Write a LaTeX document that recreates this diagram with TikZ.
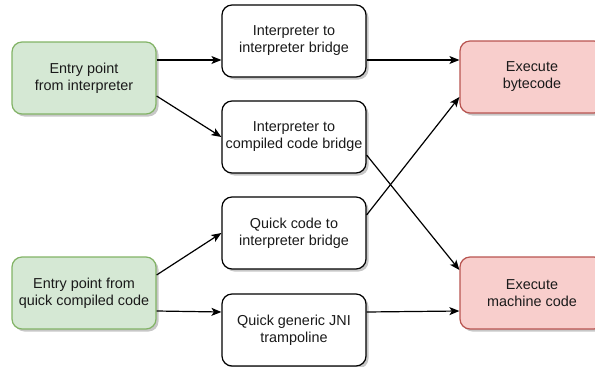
\documentclass[tikz,border=0pt]{standalone}
\usepackage{fontspec}
\setmainfont{Liberation Sans}
\usetikzlibrary{arrows.meta,shadows}
\definecolor{entryfill}{HTML}{D5E8D4}
\definecolor{entrydraw}{HTML}{82B366}
\definecolor{execfill}{HTML}{F8CECC}
\definecolor{execdraw}{HTML}{B85450}
\definecolor{txt}{HTML}{1A1A1A}
\tikzset{
  box/.style={draw=black, fill=white, rounded corners=10pt, line width=1.2pt,
    minimum width=144pt, minimum height=72pt, inner sep=0pt, align=center,
    text=txt, font=\fontsize{14.4}{17}\selectfont,
    drop shadow={shadow xshift=2.5pt, shadow yshift=-2.5pt, fill=black, opacity=0.22}},
  entry/.style={box, draw=entrydraw, fill=entryfill},
  exec/.style={box, draw=execdraw, fill=execfill},
  link/.style={line width=1.2pt, -{Stealth[length=10pt,width=8pt,inset=2.5pt]}},
}
\begin{document}
\begin{tikzpicture}[x=1pt,y=-1pt]
\useasboundingbox (0,0) rectangle (595,367);
% entry points
\node[entry] (g1) at (84,78) {Entry point\\from interpreter};
\node[entry] (g2) at (84,293) {Entry point from\\quick compiled code};
% bridges
\node[box] (m1) at (294,41) {Interpreter to\\interpreter bridge};
\node[box] (m2) at (294,137) {Interpreter to\\compiled code bridge};
\node[box] (m3) at (294,233) {Quick code to\\interpreter bridge};
\node[box] (m4) at (294,330) {Quick generic JNI\\trampoline};
% execution targets
\node[exec] (r1) at (532,77) {Execute\\bytecode};
\node[exec] (r2) at (532,293) {Execute\\machine code};
% connectors
\draw[link] ([yshift=18pt]g1.east) -- ([yshift=-19pt]m1.west);
\draw[link] ([yshift=-18pt]g1.east) -- (m2.west);
\draw[link] ([yshift=-19pt]m1.east) -- ([yshift=17pt]r1.west);
\draw[link] ([yshift=-18pt]m2.east) -- ([yshift=23pt]r2.west);
\draw[link] ([yshift=18pt]m3.east) -- ([yshift=-20pt]r1.west);
\draw[link] ([yshift=18pt]g2.east) -- (m3.west);
\draw[link] ([yshift=-18pt]g2.east) -- ([yshift=18pt]m4.west);
\draw[link] ([yshift=18pt]m4.east) -- ([yshift=-18pt]r2.west);
\end{tikzpicture}
\end{document}
